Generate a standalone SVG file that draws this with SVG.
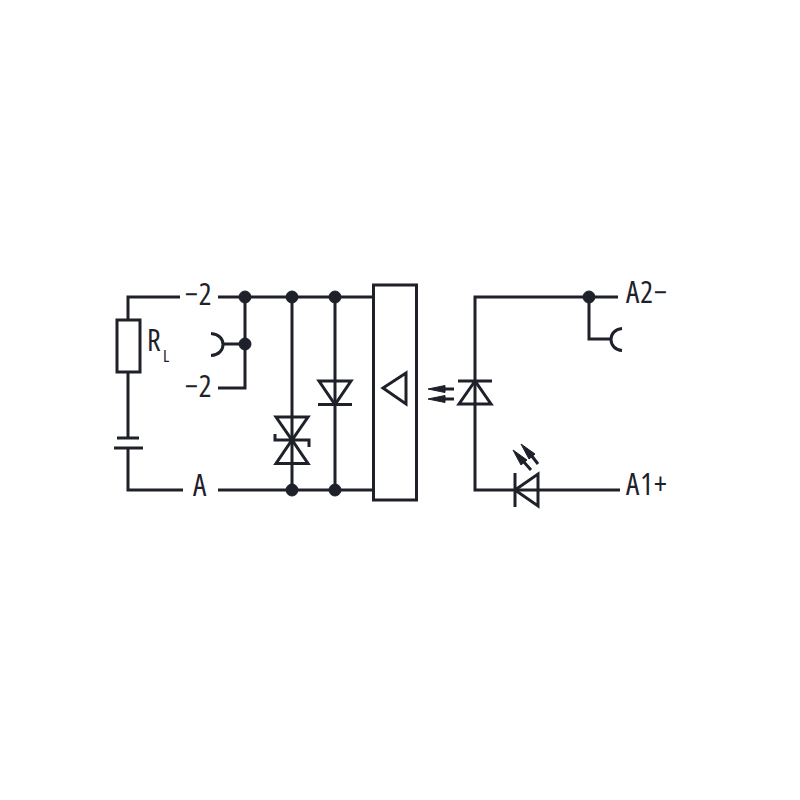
<svg xmlns="http://www.w3.org/2000/svg" width="800" height="800" viewBox="0 0 800 800">
<style>
.w{fill:none;stroke:#1e2129;stroke-width:3}
.b{fill:#1e2129;stroke:#1e2129;stroke-width:1}
text{font-family:"Open Sans","Liberation Sans",sans-serif;fill:#1e2129;font-stretch:condensed}
.t{font-size:30px}
</style>
<rect width="800" height="800" fill="#fff"/>
<g id="connectors" class="w">
<path d="M180 297H128V320M128 372V438M128 448V490H183"/>
<path d="M218 297H373"/>
<path d="M245 297V388H218"/>
<path d="M223 344H245"/>
<path d="M292 297V490M335 297V490"/>
<path d="M218 490H373"/>
<path d="M589 297V339H611"/>
<path d="M618 297H475V490H620"/>
</g>
<g id="junctions" class="b">
<circle cx="245" cy="297" r="6"/><circle cx="292" cy="297" r="6"/><circle cx="335" cy="297" r="6"/>
<circle cx="245" cy="344" r="6"/><circle cx="292" cy="490" r="6"/><circle cx="335" cy="490" r="6"/>
<circle cx="589" cy="297" r="6"/>
</g>
<g id="load-resistor"><rect class="w" x="117" y="320" width="23" height="52"/>
<text class="t" x="147" y="351">R</text><text x="163" y="362" font-size="17">L</text></g>
<g id="battery" class="w"><path d="M117 438H139M114 448H143"/></g>
<g id="socket-left" class="w"><path d="M211 333.500C219 334 223 339 223 344.500C223 350 219 355 211 355.500"/></g>
<g id="socket-right" class="w"><path d="M622 328.500C615 329 611 334 611 339.500C611 345 615 350 622 350.500"/></g>
<g id="label-minus2-top"><text class="t" x="185" y="305" letter-spacing="1">−2</text></g>
<g id="label-minus2-bottom"><text class="t" x="185" y="397" letter-spacing="1">−2</text></g>
<g id="label-a"><text class="t" x="193" y="496">A</text></g>
<g id="label-a2"><text class="t" x="626" y="303" letter-spacing="1">A2−</text></g>
<g id="label-a1"><text class="t" x="626" y="495" letter-spacing="1">A1+</text></g>
<g id="tvs-diode" class="w"><path d="M276 417H308L292 440ZM276 463.500H308L292 440ZM275 434V440H309V447"/></g>
<g id="diode" class="w"><path d="M319 381H351L335 404.500ZM318 404.500H352"/></g>
<g id="amplifier-block" class="w"><rect x="373.500" y="285" width="43" height="215"/><path d="M406 373V404L383 388Z"/></g>
<g id="photodiode"><path class="w" d="M458 381H492M475 381L459 404H491Z"/>
<path class="w" d="M443 389H454M443 399H454"/>
<path class="b" d="M428 389L445 385.500V392.500ZM428 399L445 395.500V402.500Z"/></g>
<g id="led"><path class="w" d="M515 473V507M515 490L538 474V506Z"/>
<path class="w" d="M523 461L531 470M531 455L538 464"/>
<path class="b" d="M513 450L527 460L521 465ZM521 444L535 454L529 459Z"/></g>
</svg>
